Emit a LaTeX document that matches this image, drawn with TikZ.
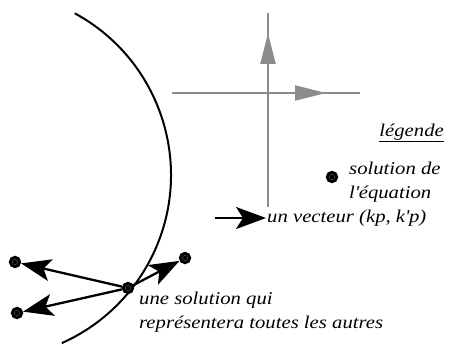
\documentclass[tikz,border=0pt]{standalone}
\usepackage{fontspec}
\setmainfont{Liberation Serif}[FakeStretch=1.15]
\usepackage{tikz}
\usetikzlibrary{positioning, arrows.meta}
\definecolor{axisGray}{HTML}{8C8C8C}
\definecolor{cInk}    {HTML}{000000}
\tikzset{
  soln/.style={circle, draw=cInk, fill=cInk, line width=1.4pt, minimum size=11pt, inner sep=0pt,
    path picture={\draw[black!70, line width=0.5pt] (path picture bounding box.center) circle[radius=2.6pt];}},
  vect/.style={-{Stealth[length=30pt, width=22pt, inset=7pt]}, line width=2.3pt, draw=cInk},
  axis/.style={line width=2.2pt, draw=axisGray},
  lbl/.style={font=\fontsize{18}{24}\selectfont\itshape, inner sep=1pt, align=left},
}

\begin{document}
\begin{tikzpicture}[x=1pt, y=-1pt]
  \useasboundingbox (0,0) rectangle (451,345);
  % axes
  \coordinate (o) at (268,93);
  \coordinate (ytop) at (268,13);
  \coordinate (ybot) at (268,207);
  \coordinate (xleft) at (172,93);
  \coordinate (xright) at (360,93);
  \coordinate (yhead) at (268,33);
  \coordinate (xhead) at (326,93);
  \draw[axis] (ytop) -- (ybot);
  \draw[axis] (xleft) -- (xright);
  \draw[axis, -{Triangle[length=31pt, width=15pt]}] (o) -- (yhead);
  \draw[axis, -{Triangle[length=31pt, width=15pt]}] (o) -- (xhead);
  % big circle
  \coordinate (cc) at (-13,175);
  \draw[line width=2pt, draw=cInk] ([shift={(-61.5:184)}]cc) arc[start angle=-61.5, end angle=66, radius=184];
  % solutions
  \node[soln] (c) at (128,288) {};
  \node[soln] (n1) at (15,262) {};
  \node[soln] (n2) at (17,313) {};
  \node[soln] (n3) at (185,258) {};
  \foreach \n in {n1,n2,n3}{
    \draw[vect] (c) -- (\n);
  }
  \node[lbl, anchor=west] (sol) at (138,312) {une solution qui\\représentera toutes les autres};
  % legend
  \node[lbl, anchor=east] (leg) at (445,133) {\underline{légende}};
  \node[soln] (ldot) at (332,177) {};
  \node[lbl, anchor=west] (ltxt) at (348,182) {solution de\\l\textquotesingle équation};
  \node[lbl, anchor=west] (lvec) at (266,218) {un vecteur (kp, k\textquotesingle p)};
  \coordinate (ltail) at (215,218);
  \draw[vect] (ltail) -- (lvec.west);
\end{tikzpicture}
\end{document}
